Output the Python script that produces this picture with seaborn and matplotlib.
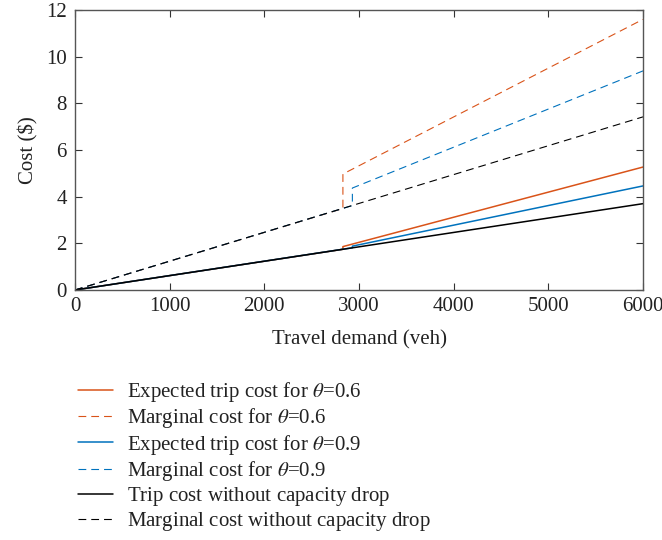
import matplotlib
matplotlib.use("Agg")
import matplotlib.pyplot as plt
import seaborn as sns
import pandas as pd

# Data
demand_06 = [0, 2830, 2830, 6000]
trip_06 = [0, 1.745, 1.86, 5.27]
marg_06 = [0, 3.49, 4.97, 11.6]

demand_09 = [0, 2930, 2930, 6000]
trip_09 = [0, 1.81, 1.88, 4.46]
marg_09 = [0, 3.62, 4.37, 9.39]

demand_nd = [0, 6000]
trip_nd = [0, 3.70]
marg_nd = [0, 7.42]

labels = [
    r"Expected trip cost for $\theta$=0.6",
    r"Marginal cost for $\theta$=0.6",
    r"Expected trip cost for $\theta$=0.9",
    r"Marginal cost for $\theta$=0.9",
    r"Trip cost without capacity drop$\,$",
    r"Marginal cost without capacity drop$\,$",
]

xticks = [0, 1000, 2000, 3000, 4000, 5000, 6000]
yticks = [0, 2, 4, 6, 8, 10, 12]

sns.set_style("ticks")
plt.rcParams["font.family"] = ["Liberation Serif", "DejaVu Serif"]
plt.rcParams["mathtext.fontset"] = "stix"
plt.rcParams["xtick.direction"] = "in"
plt.rcParams["ytick.direction"] = "in"

FS = 15

fig = plt.figure(figsize=(6.62, 5.40), dpi=100)
ax = fig.add_axes([75 / 662, 1 - 290 / 540, (643 - 75) / 662, (290 - 10) / 540])

orange = "#D95319"
blue = "#0072BD"
black = "#000000"

series = [
    (demand_06, trip_06, orange, "-", 1.1),
    (demand_06, marg_06, orange, "--", 0.8),
    (demand_09, trip_09, blue, "-", 1.1),
    (demand_09, marg_09, blue, "--", 0.8),
    (demand_nd, trip_nd, black, "-", 1.1),
    (demand_nd, marg_nd, black, "--", 0.8),
]

for (xs, ys, c, ls, lw), lab in zip(series, labels):
    df = pd.DataFrame({"x": xs, "y": ys})
    sns.lineplot(data=df, x="x", y="y", ax=ax, color=c, linestyle=ls,
                 linewidth=lw, estimator=None, sort=False, label=lab,
                 dashes=False)
    ax.lines[-1].set_linestyle(ls)
    if ls == "--":
        ax.lines[-1].set_dashes((7, 4.5))

ax.set_xlim(0, 6000)
ax.set_ylim(0, 12)
ax.set_xticks(xticks)
ax.set_yticks(yticks)
ax.set_xlabel("Travel demand (veh)", fontsize=FS, color="#222222", labelpad=10)
ax.set_ylabel("Cost (\\$)", fontsize=FS, color="#222222", labelpad=5)
ax.tick_params(axis="both", which="both", direction="in", top=True, right=True,
               length=5, width=0.8, labelsize=FS, colors="#333333",
               labelcolor="#222222")
ax.tick_params(axis="x", pad=5)
ax.tick_params(axis="y", pad=6)
for s in ax.spines.values():
    s.set_visible(True)
    s.set_color("#555555")
    s.set_linewidth(1.0)

handles, labs = ax.get_legend_handles_labels()
ax.get_legend().remove()
fig.legend(handles, labs, loc="upper left",
           bbox_to_anchor=(78 / 662, 1 - 380 / 540), frameon=False,
           fontsize=FS, handlelength=1.7, handletextpad=0.65,
           labelspacing=0.11, borderaxespad=0, borderpad=0,
           labelcolor="#222222")

fig.savefig("out.png", dpi=100)
